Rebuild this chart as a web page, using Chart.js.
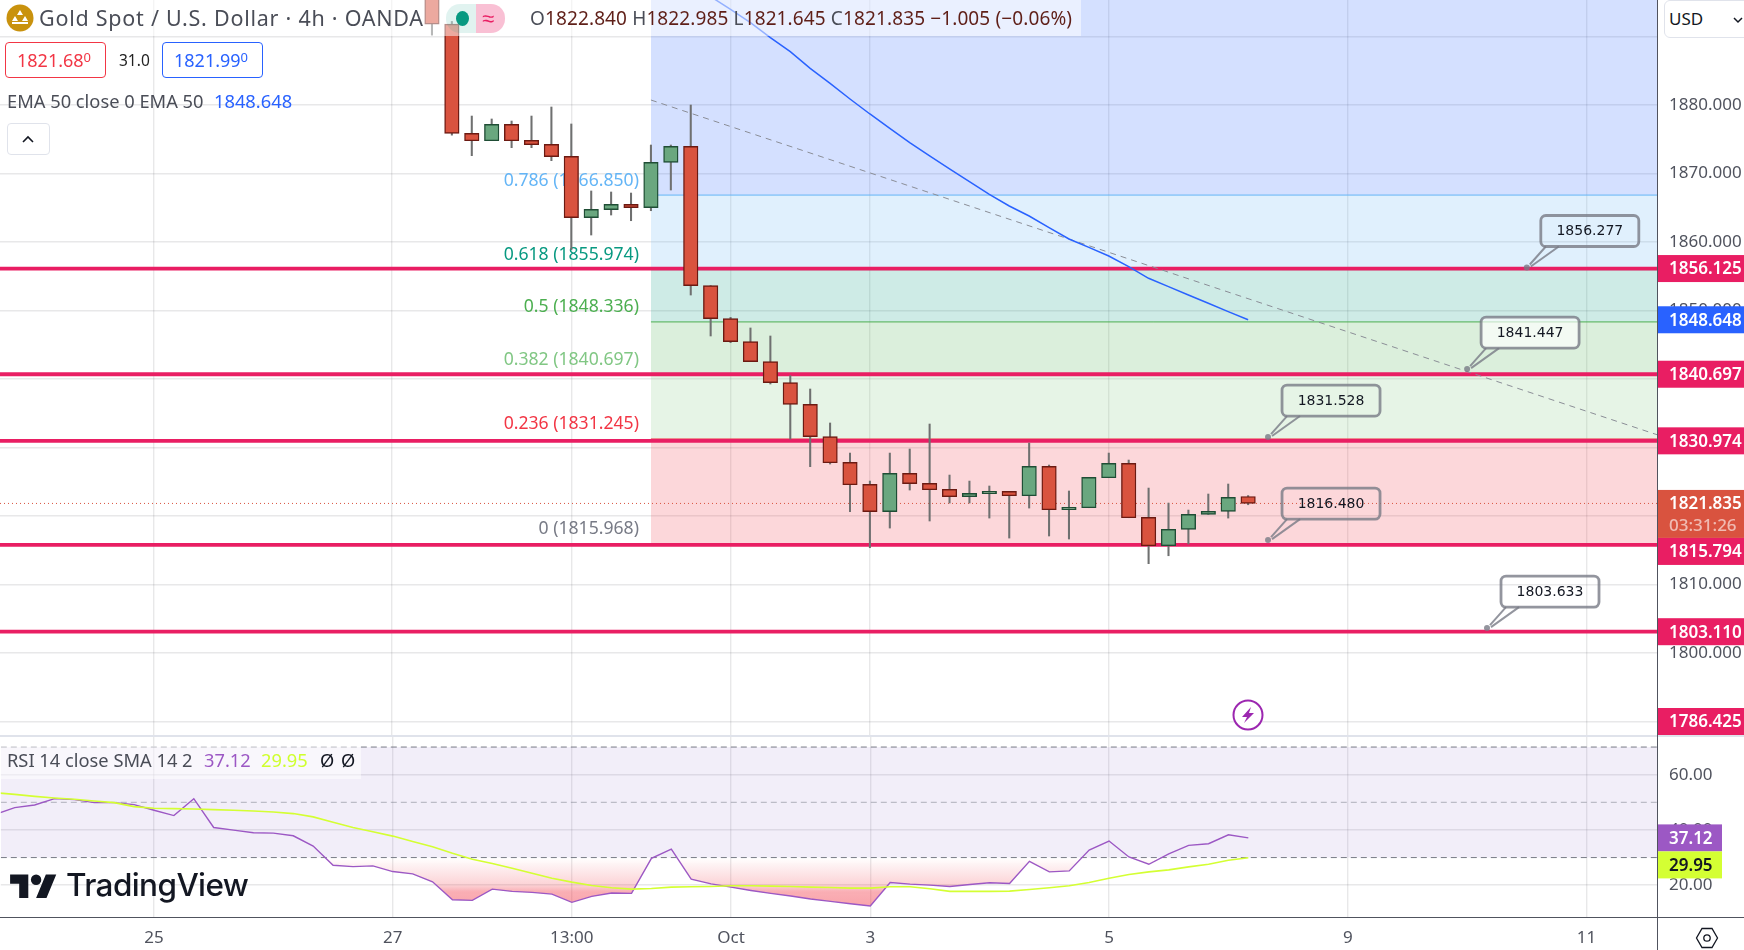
<!DOCTYPE html>
<html>
<head>
<meta charset="utf-8">
<title>Gold Spot / U.S. Dollar</title>
<script src="https://cdn.jsdelivr.net/npm/chart.js@4"></script>
<style>
  html, body { margin: 0; padding: 0; background: #fff; overflow: hidden; }
  body { width: 1744px; height: 950px; position: relative; font-family: "Noto Sans", sans-serif; color: #4a4d57; }
  canvas { position: absolute; left: 0; }
  #priceCanvas { top: 0; }
  #rsiCanvas { top: 736px; }
  .t { position: absolute; white-space: nowrap; font-size: 18.3px; line-height: 24px; }
  .box { position: absolute; box-sizing: border-box; }
  sup { font-size: 13px; line-height: 0; vertical-align: 5px; }
</style>
</head>
<body>
<canvas id="priceCanvas" width="1744" height="735"></canvas>
<canvas id="rsiCanvas" width="1744" height="214"></canvas>

<!-- Pane separators and axis lines -->
<div class="box" style="left:0;top:735px;width:1744px;height:2px;background:#e0e3eb"></div>
<div class="box" style="left:0;top:917px;width:1744px;height:1px;background:#50535e"></div>
<div class="box" style="left:1657px;top:0;width:1px;height:950px;background:#50535e"></div>

<!-- Main legend -->
<div class="box" style="left:0;top:0;width:1081px;height:36px;background:rgba(255,255,255,.5)"></div>
<svg class="box" style="left:6px;top:4px" width="28" height="28" viewBox="0 0 28 28">
  <circle cx="14" cy="14" r="13.5" fill="#c9920e"/>
  <path d="M14 6l3 5h-6zM9 12l3 5H6zM19 12l3 5h-6zM6 18h16v2H6z" fill="#fff"/>
</svg>
<div class="t" style="left:39px;top:6px;font-size:21.5px;letter-spacing:.75px">Gold Spot / U.S. Dollar · 4h · OANDA</div>
<div class="box" style="left:446px;top:4px;width:30px;height:29px;background:rgba(8,153,129,.12);border-radius:14px 0 0 14px"></div>
<div class="box" style="left:476px;top:4px;width:29px;height:29px;background:rgba(233,30,99,.28);border-radius:0 14px 14px 0"></div>
<div class="box" style="left:456px;top:11px;width:13px;height:15px;background:#089981;border-radius:50%"></div>
<div class="t" style="left:482px;top:5px;font-size:22px;color:#e91e63">≈</div>
<div class="t" style="left:530px;top:6px;font-size:19px;letter-spacing:.12px;color:#5f1f18"><span style="color:#4a4d57">O</span>1822.840 <span style="color:#4a4d57">H</span>1822.985 <span style="color:#4a4d57">L</span>1821.645 <span style="color:#4a4d57">C</span>1821.835 −1.005 (−0.06%)</div>

<div class="box" style="left:5px;top:42px;width:101px;height:36px;background:#fff;border:1.5px solid #f23645;border-radius:4px"></div>
<div class="t" style="left:17px;top:48px;font-size:18px;color:#f23645">1821.68<sup>0</sup></div>
<div class="t" style="left:119px;top:48px;font-size:15.5px;color:#222">31.0</div>
<div class="box" style="left:162px;top:42px;width:101px;height:36px;background:#fff;border:1.5px solid #2962ff;border-radius:4px"></div>
<div class="t" style="left:174px;top:48px;font-size:18px;color:#2962ff">1821.99<sup>0</sup></div>
<div class="t" style="left:7px;top:89px">EMA 50 close 0 EMA 50</div>
<div class="t" style="left:214px;top:89px;color:#2962ff">1848.648</div>
<div class="box" style="left:7px;top:123px;width:43px;height:32px;background:#fff;border:1px solid #e0e3eb;border-radius:4px"></div>
<svg class="box" style="left:21px;top:134px" width="14" height="10" viewBox="0 0 14 10">
  <path d="M2 8l5-5 5 5" fill="none" stroke="#131722" stroke-width="1.6"/>
</svg>

<!-- Currency button -->
<div class="box" style="left:1664px;top:0;width:90px;height:38px;background:#fff;border:1px solid #e0e3eb;border-radius:6px"></div>
<div class="t" style="left:1669px;top:7px;font-size:17px;color:#131722">USD</div>
<svg class="box" style="left:1733px;top:16px" width="10" height="8" viewBox="0 0 10 8">
  <path d="M1 2l4 4 4-4" fill="none" stroke="#131722" stroke-width="1.5"/>
</svg>

<!-- Event marker -->
<svg class="box" style="left:1232px;top:699px" width="32" height="32" viewBox="0 0 32 32">
  <circle cx="16" cy="16" r="14.5" fill="#fff" stroke="#9c27b0" stroke-width="2"/>
  <path d="M19 8l-9 10h5l-3 6 10-10h-5z" fill="#9c27b0"/>
</svg>

<!-- RSI legend -->
<div class="box" style="left:0;top:746px;width:361px;height:33px;background:rgba(255,255,255,.5)"></div>
<div class="t" style="left:7px;top:748px">RSI 14 close SMA 14 2</div>
<div class="t" style="left:204px;top:748px;color:#9c58c4">37.12</div>
<div class="t" style="left:261px;top:748px;color:#cfff2e">29.95</div>
<div class="t" style="left:320px;top:748px;color:#131722">Ø</div>
<div class="t" style="left:341px;top:748px;color:#131722">Ø</div>

<!-- Watermark -->
<svg class="box" style="left:10px;top:872px" width="47" height="26" viewBox="0 0 36 20">
  <path d="M14 20H7V9H0V2h14v18zM28 20h-8l7.5-18h8L28 20z" fill="#131722"/>
  <circle cx="20" cy="6" r="4" fill="#131722"/>
</svg>
<div class="t" style="left:66px;top:866px;font-size:31.5px;line-height:38px;font-weight:500;font-family:Inter,sans-serif;color:#131722;letter-spacing:-.6px">TradingView</div>

<!-- Settings icon -->
<svg class="box" style="left:1695px;top:926px" width="24" height="24" viewBox="0 0 24 24">
  <path d="M7 2.5h10L22.5 12 17 21.5H7L1.500 12z" fill="none" stroke="#131722" stroke-width="1.3"/>
  <circle cx="12" cy="12" r="3.200" fill="none" stroke="#131722" stroke-width="1.3"/>
</svg>

<script>
// Bars are counted from the first fully visible candle, 20px apart on the axis
const barIndex = [-1, 0, 1, 2, 3, 4, 5, 6, 7, 8, 9, 10, 11, 12, 13, 14, 15, 16, 17, 18, 19, 20,
  21, 22, 23, 24, 25, 26, 27, 28, 29, 30, 31, 32, 33, 34, 35, 36, 37, 38, 39, 40];

const openPrices = [1899.0, 1891.8, 1875.86, 1874.79, 1877.18, 1874.84, 1874.26, 1872.5, 1863.55, 1864.72, 1865.5, 1865.01,
  1871.63, 1873.97, 1853.63, 1848.81, 1845.45, 1842.53, 1839.47, 1836.3, 1831.58, 1827.83, 1824.62, 1820.63, 1826.22,
  1824.76, 1823.89, 1822.82, 1823.26, 1823.6, 1822.96, 1827.25, 1820.92, 1821.21, 1825.59, 1827.68, 1819.8, 1815.66,
  1818.05, 1820.24, 1820.68, 1822.84];
const highPrices = [1899.5, 1892.2, 1878.39, 1877.96, 1877.66, 1878.39, 1879.71, 1877.23, 1867.45, 1867.3, 1867.15, 1874.16,
  1874.16, 1880.0, 1853.63, 1849.0, 1847.45, 1846.28, 1840.49, 1838.54, 1833.58, 1829.19, 1825.1, 1829.19, 1829.78,
  1833.43, 1825.98, 1825.1, 1824.38, 1823.6, 1830.65, 1827.44, 1823.65, 1825.64, 1829.19, 1828.17, 1824.08, 1821.89,
  1820.87, 1823.21, 1824.67, 1822.985];
const lowPrices = [1890.2, 1875.6, 1872.6, 1874.79, 1873.77, 1873.77, 1871.87, 1858.9, 1861.02, 1863.94, 1863.11, 1864.57,
  1867.59, 1852.26, 1846.28, 1845.3, 1842.53, 1839.27, 1831.24, 1827.2, 1827.59, 1820.63, 1815.37, 1818.24, 1823.79,
  1819.27, 1821.89, 1821.89, 1819.7, 1816.78, 1821.16, 1817.08, 1816.64, 1821.21, 1825.59, 1819.75, 1813.04, 1814.2,
  1815.91, 1820.24, 1819.7, 1821.645];
const closePrices = [1891.8, 1875.86, 1874.79, 1877.18, 1874.79, 1874.21, 1872.46, 1863.55, 1864.77, 1865.5, 1865.01, 1871.63,
  1873.97, 1853.63, 1848.81, 1845.45, 1842.53, 1839.47, 1836.3, 1831.58, 1827.78, 1824.57, 1820.63, 1826.22, 1824.72,
  1823.84, 1822.82, 1823.3, 1823.6, 1822.96, 1827.25, 1820.92, 1821.26, 1825.64, 1827.68, 1819.75, 1815.66, 1818.05,
  1820.24, 1820.68, 1822.72, 1821.835];

const emaIndex = [13, 14, 15, 16, 17, 18, 19, 20, 21, 22, 23, 24, 25, 26, 27, 28, 29, 30, 31, 32, 33, 34, 35, 36, 37, 38, 39, 40];
const emaValues = [1895.82, 1893.97, 1892.02, 1889.83, 1887.79, 1885.35, 1883.17, 1880.88, 1878.69, 1876.6, 1874.5, 1872.56,
  1870.66, 1868.81, 1866.96, 1865.26, 1863.8, 1862.09, 1860.44, 1859.22, 1857.96, 1856.4, 1854.7, 1853.48, 1852.26,
  1851.05, 1849.83, 1848.648];

// Fibonacci levels, lowest first
const fibRatios = ["0", "0.236", "0.382", "0.5", "0.618", "0.786"];
const fibPrices = [1815.968, 1831.245, 1840.697, 1848.336, 1855.974, 1866.85];
const fibColors = ["#787b86", "#f23645", "#81c784", "#4caf50", "#089981", "#64b5f6"];
const fibFills = ["rgba(242,54,69,.2)", "rgba(129,199,132,.2)", "rgba(76,175,80,.2)", "rgba(8,153,129,.2)",
  "rgba(100,181,246,.2)", "rgba(41,98,255,.2)"];
const fibStartBar = 10;

const supportLevels = [1856.125, 1840.697, 1830.974, 1815.794, 1803.11];
const lastClose = 1821.835;

// Dashed trend line
const trendBars = [10, 60.54];
const trendPrices = [1880.73, 1831.87];

// Callouts sit on a bar and a price
const calloutBars = [54, 51, 41, 41, 52];
const calloutPrices = [1856.277, 1841.447, 1831.528, 1816.48, 1803.633];
const calloutFills = ["rgba(255,255,255,0)", "rgba(255,255,255,.65)", "rgba(255,255,255,0)", "rgba(255,255,255,0)", "rgba(255,255,255,0)"];

// Axis ticks, the 1890 label is hidden behind the currency button in the original
const priceTicks = [1790, 1800, 1810, 1820, 1830, 1840, 1850, 1860, 1870, 1880, 1890];
const priceTickLabels = ["1790.000", "1800.000", "1810.000", "1820.000", "1830.000", "1840.000", "1850.000", "1860.000", "1870.000", "1880.000", ""];
const rsiTicks = [20, 40, 60];
const rsiTickLabels = ["20.00", "40.00", "60.00"];
const timeTickBars = [-15, -3, 6, 14, 21, 33, 45, 57];
const timeTickLabels = ["25", "27", "13:00", "Oct", "3", "5", "9", "11"];

// Labels on the right axis
const priceTagValues = [1856.125, 1848.648, 1840.697, 1830.974, 1821.835, 1815.794, 1803.11, 1786.425];
const priceTagColors = ["#e91e63", "#2962ff", "#e91e63", "#e91e63", "#d9533f", "#e91e63", "#e91e63", "#e91e63"];
const rsiTagValues = [37.12, 29.95];
const rsiTagColors = ["#9c58c4", "#d4ff33"];
const rsiTagTextColors = ["#fff", "#131722"];

// RSI pane
const rsiIndex = [-23, -22, -21, -20, -19, -18, -17, -16, -15, -14, -13, -12, -11, -10, -9, -8, -7, -6, -5, -4, -3, -2, -1,
  0, 1, 2, 3, 4, 5, 6, 7, 8, 9, 10, 11, 12, 13, 14, 15, 16, 17, 18, 19, 20,
  21, 22, 23, 24, 25, 26, 27, 28, 29, 30, 31, 32, 33, 34, 35, 36, 37, 38, 39, 40];
const rsiValues = [45.56, 48.08, 49.04, 51.32, 50.96, 49.88, 49.88, 49.16, 47.12, 45.2, 51.32, 40.89, 39.93, 38.97, 38.85,
  37.89, 34.17, 27.22, 26.74, 26.98, 24.94, 24.1, 21.22,
  14.75, 14.51, 18.58, 17.75, 17.39, 16.79, 13.79, 15.95, 17.15, 17.03, 29.74, 33.09, 22.18, 20.5, 19.3, 18.1, 17.03,
  16.07, 15.0, 14.15, 13.31, 12.47, 21.0, 20.38, 20.02, 19.54, 20.26, 20.86, 20.62, 28.66, 24.82, 25.18, 32.73, 35.97,
  30.22, 27.58, 31.3, 34.41, 35.01, 38.25, 37.12];
const rsiSmaValues = [53.48, 52.88, 52.16, 51.56, 51.08, 50.48, 49.88, 48.44, 47.84, 47.72, 47.6, 47.36, 47.12, 46.88, 46.52,
  45.92, 44.72, 42.81, 40.89, 39.33, 37.77, 35.85, 33.93,
  31.54, 29.38, 27.82, 26.14, 24.34, 22.54, 21.1, 19.9, 19.07, 18.58, 18.82, 19.3, 19.42, 19.54, 19.78, 19.78, 19.66,
  19.54, 19.3, 19.18, 18.95, 18.95, 19.42, 19.42, 18.7, 17.75, 17.75, 17.75, 17.87, 18.47, 19.07, 19.78, 20.98, 22.54,
  23.86, 24.82, 25.54, 26.62, 27.58, 29.02, 29.95];
const rsiBandTop = 70;
const rsiBandMiddle = 50;
const rsiBandBottom = 30;

// What part of each scale the window shows
const barMin = -22.7;
const barMax = 60.54;
const priceMin = 1788.03;
const priceMax = 1895.33;
const rsiMin = 8.49;
const rsiMax = 73.71;

const axisFont = { family: '"Noto Sans", sans-serif', size: 17 };
const axisColor = "#50535e";
const gridColor = "rgba(42,46,57,.11)";
const axisWidth = 87;

function levelLine(value, fromBar, toBar)
{
  return [{ x: fromBar, y: value }, { x: toBar, y: value }];
}

function xAxis(showLabels)
{
  return {
    type: "linear",
    min: barMin,
    max: barMax,
    offset: false,
    grid: { color: gridColor, lineWidth: 1.4, drawTicks: false, offset: false },
    border: { display: false },
    afterBuildTicks: axis => { axis.ticks = timeTickBars.map(value => ({ value })); },
    afterFit: axis => {
      axis.height = showLabels ? 33 : 0;
      axis.paddingLeft = 0;
      axis.paddingRight = 0;
    },
    ticks: {
      display: showLabels,
      autoSkip: false,
      maxRotation: 0,
      padding: 11,
      color: axisColor,
      font: axisFont,
      callback: value => timeTickLabels[timeTickBars.indexOf(value)]
    }
  };
}

function yAxis(min, max, tickValues, tickLabels)
{
  return {
    type: "linear",
    position: "right",
    min,
    max,
    beginAtZero: false,
    grid: { color: gridColor, lineWidth: 1.4, drawTicks: false },
    border: { display: false },
    afterBuildTicks: axis => { axis.ticks = tickValues.map(value => ({ value })); },
    afterFit: axis => {
      axis.width = axisWidth;
      axis.paddingTop = 0;
      axis.paddingBottom = 0;
    },
    ticks: {
      padding: 12,
      color: axisColor,
      font: axisFont,
      callback: value => tickLabels[tickValues.indexOf(value)]
    }
  };
}

// Coloured tags on the right axis, pushed down when they would overlap
function drawTags(chart, values, colors, textColors, width, digits, subLabel)
{
  const ctx = chart.ctx;
  const yScale = chart.scales.y;
  const left = chart.chartArea.right;
  const height = 27;
  let previousBottom = -100;
  ctx.save();
  ctx.textBaseline = "middle";
  values.forEach((value, i) => {
    const y = yScale.getPixelForValue(value);
    const hasSub = subLabel && subLabel.value === value;
    const tagHeight = hasSub ? 48 : height;
    let top = Math.max(y - height / 2, previousBottom);
    top = Math.min(top, chart.height - tagHeight);
    ctx.fillStyle = colors[i];
    ctx.fillRect(left, top, width, tagHeight);
    ctx.font = '600 17px "Noto Sans", sans-serif';
    ctx.fillStyle = textColors ? textColors[i] : "#fff";
    ctx.textAlign = "left";
    ctx.fillText(value.toFixed(digits), left + 12, top + height / 2 + 1);
    if (hasSub)
    {
      ctx.font = '500 17px "Noto Sans", sans-serif';
      ctx.fillStyle = "rgba(255,255,255,.6)";
      ctx.fillText(subLabel.text, left + 12, top + 36);
    }
    previousBottom = top + tagHeight;
  });
  ctx.restore();
}

// Fib labels go under the candles, one of them is cut by a candle in the original
const fibLabelsPlugin = {
  id: "fibLabels",
  beforeDatasetsDraw(chart) {
    const ctx = chart.ctx;
    const x = chart.scales.x.getPixelForValue(fibStartBar) - 12;
    ctx.save();
    ctx.font = '17.6px "Noto Sans", sans-serif';
    ctx.textAlign = "right";
    ctx.textBaseline = "middle";
    fibPrices.forEach((price, i) => {
      ctx.fillStyle = fibColors[i];
      ctx.fillText(fibRatios[i] + " (" + price.toFixed(3) + ")", x, chart.scales.y.getPixelForValue(price) - 14.5);
    });
    ctx.restore();
  }
};

const calloutPlugin = {
  id: "callouts",
  afterDatasetsDraw(chart) {
    const ctx = chart.ctx;
    ctx.save();
    calloutPrices.forEach((price, i) => {
      const x = chart.scales.x.getPixelForValue(calloutBars[i]);
      const y = chart.scales.y.getPixelForValue(price);
      const boxLeft = x + 14;
      const boxTop = y - 52;
      const stroke = "rgba(120,123,134,.8)";

      ctx.fillStyle = stroke;
      ctx.beginPath();
      ctx.arc(x, y, 3, 0, Math.PI * 2);
      ctx.fill();

      ctx.strokeStyle = stroke;
      ctx.lineWidth = 2;
      ctx.beginPath();
      ctx.moveTo(x + 3, y - 3);
      ctx.lineTo(x + 19, y - 21);
      ctx.moveTo(x + 4, y - 1);
      ctx.lineTo(x + 32, y - 21);
      ctx.stroke();

      ctx.lineWidth = 2.8;
      ctx.beginPath();
      ctx.roundRect(boxLeft, boxTop, 98, 31, 5);
      ctx.fillStyle = calloutFills[i];
      ctx.fill();
      ctx.stroke();

      ctx.fillStyle = "#131722";
      ctx.font = '14px "DejaVu Sans", sans-serif';
      ctx.textAlign = "center";
      ctx.textBaseline = "middle";
      ctx.fillText(price.toFixed(3), boxLeft + 49, boxTop + 16);
    });
    ctx.restore();
  }
};

const priceTagPlugin = {
  id: "priceTags",
  afterDraw(chart) {
    drawTags(chart, priceTagValues, priceTagColors, null, axisWidth, 3, { value: lastClose, text: "03:31:26" });
  }
};

const rsiTagPlugin = {
  id: "rsiTags",
  afterDraw(chart) {
    drawTags(chart, rsiTagValues, rsiTagColors, rsiTagTextColors, 65, 2, null);
  }
};

// Price pane
const priceDatasets = [];

fibPrices.forEach((price, i) => {
  const upper = i + 1 < fibPrices.length ? fibPrices[i + 1] : priceMax;
  priceDatasets.push({
    type: "line",
    data: levelLine(price, fibStartBar, barMax),
    borderColor: fibColors[i],
    borderWidth: 1,
    fill: { target: { value: upper }, above: fibFills[i], below: fibFills[i] },
    order: 50
  });
});

supportLevels.forEach(level => {
  priceDatasets.push({
    type: "line",
    data: levelLine(level, barMin, barMax),
    borderColor: "#e91e63",
    borderWidth: 3.8,
    order: 40
  });
});

priceDatasets.push({
  type: "line",
  data: levelLine(lastClose, barMin, barMax),
  borderColor: "#d9533f",
  borderWidth: 1,
  borderDash: [1, 3],
  order: 39
});

priceDatasets.push({
  type: "line",
  data: trendBars.map((bar, i) => ({ x: bar, y: trendPrices[i] })),
  borderColor: "#8a8d96",
  borderWidth: 1,
  borderDash: [6, 5],
  order: 38
});

priceDatasets.push({
  type: "bar",
  data: barIndex.map((bar, i) => ({ x: bar, y: [lowPrices[i], highPrices[i]] })),
  backgroundColor: "#6f7070",
  barThickness: 1.4,
  grouped: false,
  order: 20
});

priceDatasets.push({
  type: "bar",
  data: barIndex.map((bar, i) => ({ x: bar, y: [openPrices[i], closePrices[i]] })),
  backgroundColor: barIndex.map((bar, i) => closePrices[i] >= openPrices[i] ? "#6aa77f" : "#d9533f"),
  borderColor: barIndex.map((bar, i) => closePrices[i] >= openPrices[i] ? "#1f4d35" : "#6b1a12"),
  borderWidth: 1.4,
  borderSkipped: false,
  barThickness: 14.5,
  grouped: false,
  order: 10
});

priceDatasets.push({
  type: "line",
  data: emaIndex.map((bar, i) => ({ x: bar, y: emaValues[i] })),
  borderColor: "#2962ff",
  borderWidth: 1.5,
  order: 5
});

new Chart(document.getElementById("priceCanvas"), {
  type: "bar",
  data: { datasets: priceDatasets },
  options: {
    responsive: false,
    animation: false,
    layout: { padding: 0 },
    elements: { point: { radius: 0 } },
    plugins: { legend: { display: false }, tooltip: { enabled: false } },
    scales: {
      x: xAxis(false),
      y: yAxis(priceMin, priceMax, priceTicks, priceTickLabels)
    }
  },
  plugins: [fibLabelsPlugin, calloutPlugin, priceTagPlugin]
});

// RSI pane
const rsiLine = {
  type: "line",
  data: rsiIndex.map((bar, i) => ({ x: bar, y: rsiValues[i] })),
  borderColor: "#9c58c4",
  borderWidth: 1.4,
  fill: { target: { value: rsiBandBottom }, above: "rgba(0,0,0,0)", below: "rgba(0,0,0,0)" },
  order: 3
};

const rsiChart = new Chart(document.getElementById("rsiCanvas"), {
  type: "line",
  data: {
    datasets: [
      {
        data: levelLine(rsiBandTop, barMin, barMax),
        borderColor: "#787b86",
        borderWidth: 1,
        borderDash: [6, 4],
        fill: { target: { value: rsiBandBottom }, above: "rgba(126,87,194,.1)", below: "rgba(126,87,194,.1)" },
        order: 10
      },
      {
        data: levelLine(rsiBandMiddle, barMin, barMax),
        borderColor: "rgba(120,123,134,.55)",
        borderWidth: 1,
        borderDash: [6, 4],
        order: 9
      },
      {
        data: levelLine(rsiBandBottom, barMin, barMax),
        borderColor: "#787b86",
        borderWidth: 1,
        borderDash: [6, 4],
        order: 8
      },
      rsiLine,
      {
        data: rsiIndex.map((bar, i) => ({ x: bar, y: rsiSmaValues[i] })),
        borderColor: "#d4ff33",
        borderWidth: 1.6,
        order: 2
      }
    ]
  },
  options: {
    responsive: false,
    animation: false,
    layout: { padding: 0 },
    elements: { point: { radius: 0 } },
    plugins: { legend: { display: false }, tooltip: { enabled: false } },
    scales: {
      x: xAxis(true),
      y: yAxis(rsiMin, rsiMax, rsiTicks, rsiTickLabels)
    }
  },
  plugins: [rsiTagPlugin]
});

// Oversold gradient needs the scale to be laid out first
const rsiY = rsiChart.scales.y;
const oversold = rsiChart.ctx.createLinearGradient(0, rsiY.getPixelForValue(30), 0, rsiY.getPixelForValue(10));
oversold.addColorStop(0, "rgba(242,54,69,0)");
oversold.addColorStop(0.5, "rgba(242,54,69,.22)");
oversold.addColorStop(0.62, "rgba(242,54,69,.4)");
oversold.addColorStop(1, "rgba(242,54,69,.47)");
rsiLine.fill.below = oversold;
rsiChart.update("none");
</script>
</body>
</html>
